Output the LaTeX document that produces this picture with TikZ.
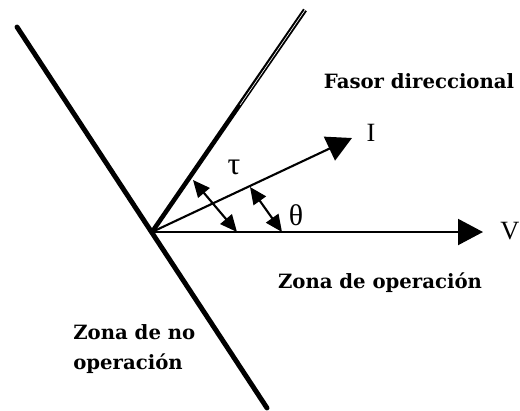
\documentclass[tikz,border=0pt]{standalone}
\usepackage{fontspec}
\setmainfont{Liberation Serif}
\newfontfamily\zonafont{DejaVu Serif}
\usetikzlibrary{arrows.meta, positioning}

\tikzset{
  zona/.style={font=\zonafont\bfseries\fontsize{11.2}{17}\selectfont, inner sep=0pt},
  letra/.style={font=\fontsize{15}{15}\selectfont, inner sep=0pt},
  fasor/.style={line width=1.2pt, -{Triangle[length=0.5cm, width=0.52cm]}},
  angulo/.style={line width=1.2pt, {Triangle[length=0.34cm, width=0.3cm]}-{Triangle[length=0.34cm, width=0.3cm]}},
  borde/.style={line width=2.8pt, line cap=round},
}

\begin{document}
\begin{tikzpicture}[x=0.02cm, y=-0.02cm]
    \useasboundingbox (0,0) rectangle (520,410);
    % Origin and end points
    \coordinate (O)    at (152,232);
    \coordinate (A)    at (17,27);
    \coordinate (B)    at (267,408);
    \coordinate (U)    at (305,10);
    \coordinate (Umid) at (240,105);
    \coordinate (Itip) at (352,138);
    \coordinate (Vtip) at (483,232);
    % Limit of the zones
    \draw[borde] (A) -- (B);
    \draw[line width=2.6pt] (O) -- (U);
    \draw[white, line width=0.35pt] (Umid) -- (U);
    % Phasors
    \draw[fasor] (O) -- (Itip);
    \draw[fasor] (O) -- (Vtip);
    \node[letra] (I) at (371,133) {I};
    \node[letra] (V) at (510,231) {V};
    % Angles
    \coordinate (t1) at (193,180);
    \coordinate (t2) at (237,232);
    \coordinate (h1) at (250,187);
    \coordinate (h2) at (282,232);
    \draw[angulo] (t1) -- (t2);
    \draw[angulo] (h1) -- (h2);
    \node[font=\fontsize{18}{18}\selectfont, inner sep=0pt] (tau)   at (234,167) {τ};
    \node[font=\fontsize{17}{17}\selectfont, inner sep=0pt] (theta) at (296,215) {θ};
    % Zone labels
    \node[zona] (fasorlbl) at (419,81) {Fasor direccional};
    \node[zona] (zonaop)   at (380,283) {Zona de operación};
    \node[zona, anchor=west, align=left] (zonano) at (73,349) {Zona de no\\operación};
\end{tikzpicture}
\end{document}
